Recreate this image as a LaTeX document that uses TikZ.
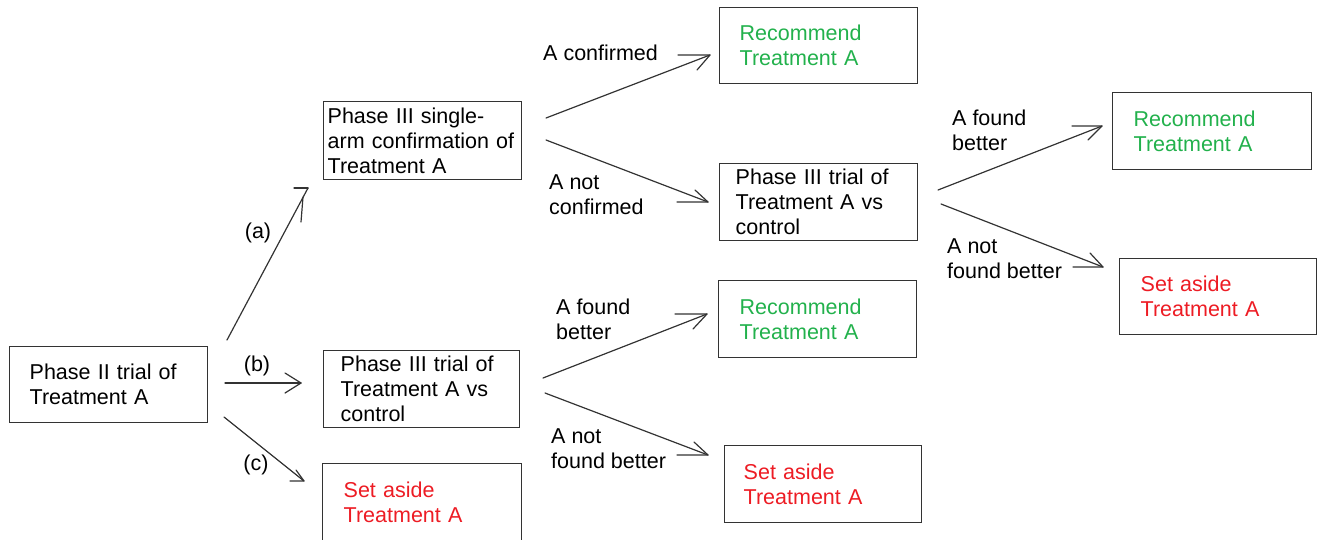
\documentclass[tikz,border=0pt]{standalone}
\usepackage{fontspec}
\setmainfont{Liberation Sans}
\definecolor{recgreen}{HTML}{22B14C}
\definecolor{setred}{HTML}{ED1C24}
\definecolor{edgec}{HTML}{333333}
\newcommand\diagfont{\fontsize{21.5}{25}\selectfont}
\begin{document}
\begin{tikzpicture}[x=1pt,y=-1pt,
  box/.style={draw=edgec, line width=1.4pt, rectangle, anchor=north west,
    align=left, inner ysep=0pt, font=\diagfont, text=black},
  goodtxt/.style={text=recgreen},
  badtxt/.style={text=setred},
  lbl/.style={anchor=west, align=left, inner sep=0pt, font=\diagfont},
  tag/.style={anchor=center, inner sep=0pt, font=\diagfont},
  conn/.style={draw=edgec, line width=1.2pt, line cap=round, line join=round}]
\useasboundingbox (0,0) rectangle (1324,539);

% boxes
\node[box, text width=158pt, inner xsep=20pt, minimum height=76pt] (p2) at (9,346) {Phase II trial of\\Treatment A};
\node[box, text width=190pt, inner xsep=4pt, minimum height=78pt] (p3a) at (323,101) {Phase III single-\\arm confirmation of\\Treatment A};
\node[box, text width=162pt, inner xsep=17pt, minimum height=77pt] (p3b) at (323,350) {Phase III trial of\\Treatment A vs\\control};
\node[box, badtxt, text width=157pt, inner xsep=21pt, minimum height=78pt] (sac) at (322,463) {Set aside\\Treatment A};
\node[box, goodtxt, text width=158pt, inner xsep=20pt, minimum height=76pt] (rec1) at (719,7) {Recommend\\Treatment A};
\node[box, text width=166pt, inner xsep=16pt, minimum height=77pt] (p3c) at (719,163) {Phase III trial of\\Treatment A vs\\control};
\node[box, goodtxt, text width=157pt, inner xsep=21pt, minimum height=77pt] (rec2) at (1112,92) {Recommend\\Treatment A};
\node[box, badtxt, text width=155pt, inner xsep=21pt, minimum height=76pt] (sar) at (1119,258) {Set aside\\Treatment A};
\node[box, goodtxt, text width=156pt, inner xsep=21pt, minimum height=77pt] (rec3) at (718,280) {Recommend\\Treatment A};
\node[box, badtxt, text width=159pt, inner xsep=19pt, minimum height=77pt] (sab) at (724,445) {Set aside\\Treatment A};

% labels
\node[tag] (la) at (258,233) {(a)};
\node[tag] (lb) at (257,366) {(b)};
\node[tag] (lc) at (256,465) {(c)};
\node[lbl] (lconf) at (543,53) {A confirmed};
\node[lbl] (lnconf) at (549,195) {A not\\confirmed};
\node[lbl] (lfb1) at (952,130) {A found\\better};
\node[lbl] (lnfb1) at (947,259) {A not\\found better};
\node[lbl] (lfb2) at (556,319) {A found\\better};
\node[lbl] (lnfb2) at (551,449) {A not\\found better};

% connector end points
\coordinate (aS) at (227,340);  \coordinate (aT) at (308,188);
\coordinate (bS) at (225,383);  \coordinate (bT) at (301,383);
\coordinate (cS) at (224,417);  \coordinate (cT) at (304,481);
\coordinate (d1S) at (546,118); \coordinate (d1T) at (710,55);
\coordinate (d2S) at (546,140); \coordinate (d2T) at (708,202);
\coordinate (e1S) at (938,190); \coordinate (e1T) at (1102,126);
\coordinate (e2S) at (941,204); \coordinate (e2T) at (1103,267);
\coordinate (f1S) at (543,378); \coordinate (f1T) at (707,314);
\coordinate (f2S) at (545,393); \coordinate (f2T) at (708,455);

% connectors
\draw[conn] (aS) -- (aT);
\draw[conn] (aT) ++(-14,0) -- (aT);
\draw[conn] (aT) ++(-5,9) -- ++(-2,25);
\draw[conn] (bS) -- (bT);
\draw[conn] (bT) ++(-16,-10) -- (bT) -- ++(-16,10);
\draw[conn] (cS) -- (cT);
\draw[conn] (cT) ++(-14,0) -- (cT) -- ++(-8,-11);
\draw[conn] (d1S) -- (d1T);
\draw[conn] (d1T) ++(-32,0) -- (d1T) -- ++(-13,15);
\draw[conn] (d2S) -- (d2T);
\draw[conn] (d2T) ++(-31,0) -- (d2T) -- ++(-13,-12);
\draw[conn] (e1S) -- (e1T);
\draw[conn] (e1T) ++(-30,0) -- (e1T) -- ++(-14,14);
\draw[conn] (e2S) -- (e2T);
\draw[conn] (e2T) ++(-30,0) -- (e2T) -- ++(-13,-14);
\draw[conn] (f1S) -- (f1T);
\draw[conn] (f1T) ++(-32,0) -- (f1T) -- ++(-14,15);
\draw[conn] (f2S) -- (f2T);
\draw[conn] (f2T) ++(-31,0) -- (f2T) -- ++(-14,-13);
\end{tikzpicture}
\end{document}
